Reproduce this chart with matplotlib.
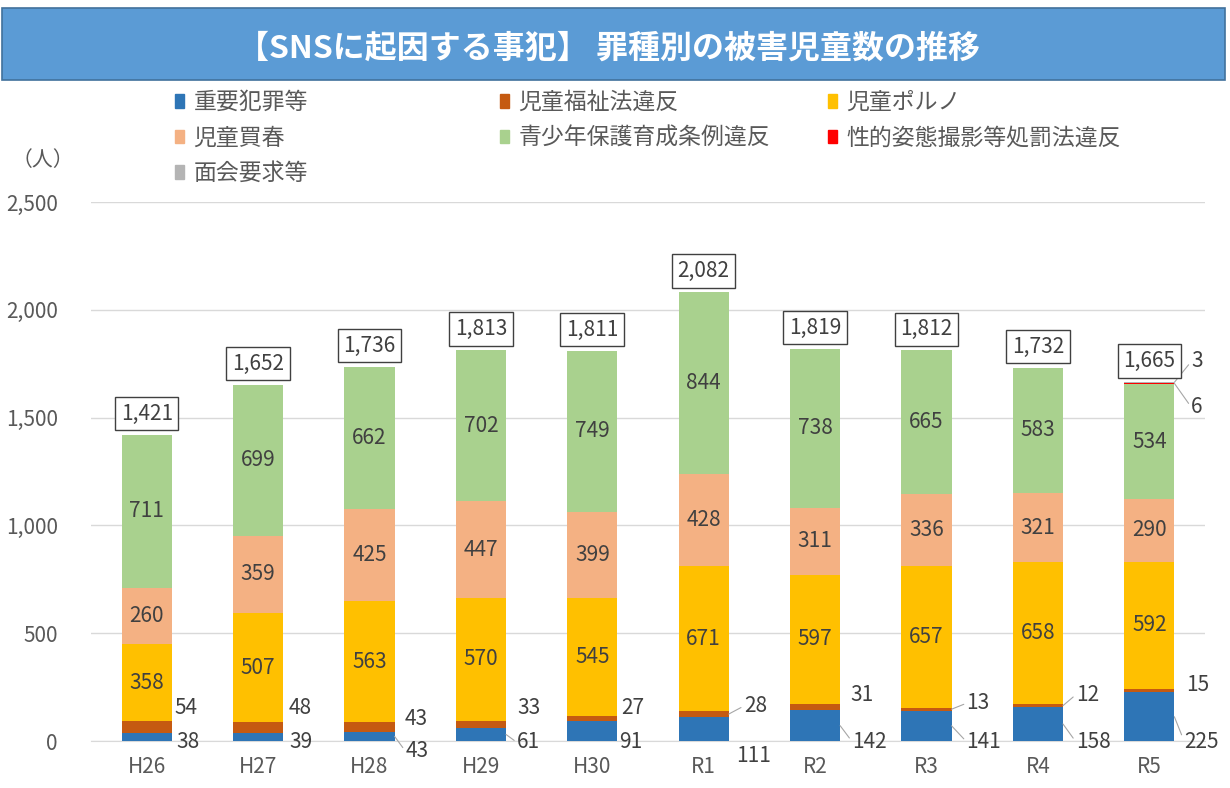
import matplotlib
matplotlib.use("Agg")
import matplotlib.pyplot as plt
from matplotlib.patches import Rectangle, Patch
import numpy as np

plt.rcParams['font.family'] = ['Noto Sans CJK JP', 'DejaVu Sans']

# データ
years = ["H26", "H27", "H28", "H29", "H30", "R1", "R2", "R3", "R4", "R5"]
series_names = ["重要犯罪等", "児童福祉法違反", "児童ポルノ", "児童買春",
                "青少年保護育成条例違反", "性的姿態撮影等処罰法違反", "面会要求等"]
juyo = [38, 39, 43, 61, 91, 111, 142, 141, 158, 225]
fukushi = [54, 48, 43, 33, 27, 28, 31, 13, 12, 15]
porno = [358, 507, 563, 570, 545, 671, 597, 657, 658, 592]
baishun = [260, 359, 425, 447, 399, 428, 311, 336, 321, 290]
jorei = [711, 699, 662, 702, 749, 844, 738, 665, 583, 534]
shiteki = [0, 0, 0, 0, 0, 0, 0, 0, 0, 6]
menkai = [0, 0, 0, 0, 0, 0, 0, 0, 0, 3]
colors = ["#2E75B6", "#C55A11", "#FFC000", "#F4B183", "#A9D18E", "#FF0000", "#B4B4B4"]

text_col = "#595959"
lab_col = "#404040"

# 小さい値のラベル位置 (pixel offset: dx, dy, 引出線)
fukushi_off = [(3, 19, 0), (5, 19, 0), (10, 8, 0), (11, 16, 0), (4, 10, 0),
               (15, 8, 1), (10, 12, 0), (15, 6, 1), (13, 11, 1), (12, 6, 0)]
juyo_off = [(5, -5, 0), (6, -5, 0), (11, -15, 1), (11, -8, 1), (2, -11, 0),
            (7, -27, 0), (12, -16, 1), (15, -16, 1), (13, -18, 1), (10, -25, 1)]

fig = plt.figure(figsize=(12.3, 7.88), dpi=100)

# タイトル帯
fig.patches.append(Rectangle((2 / 1230, 1 - 80 / 788), 1223 / 1230, 72 / 788,
                             transform=fig.transFigure, facecolor="#5B9BD5",
                             edgecolor="#41719C", lw=1.2))
fig.text(0.495, 1 - 49 / 788, "【SNSに起因する事犯】 罪種別の被害児童数の推移",
         ha="center", va="center", color="white", fontsize=23, fontweight="bold")

ax = fig.add_axes([91 / 1230, 1 - 741 / 788, 1114 / 1230, 539 / 788])
x = np.arange(len(years))
w = 0.45
data = [juyo, fukushi, porno, baishun, jorei, shiteki, menkai]
bottom = np.zeros(len(years))
handles = []
for vals, c, name in zip(data, colors, series_names):
    vals = np.array(vals)
    ax.bar(x, vals, w, bottom=bottom, color=c, label=name, zorder=3)
    handles.append(Patch(color=c, label=name))
    bottom = bottom + vals
totals = bottom

ax.set_xlim(-0.5, 9.5)
ax.set_ylim(0, 2500)
ax.set_yticks(np.arange(0, 2501, 500))
ax.yaxis.set_major_formatter(matplotlib.ticker.FuncFormatter(lambda v, p: f"{int(v):,}"))
ax.set_xticks(x)
ax.set_xticklabels(years)
ax.grid(axis="y", color="#D9D9D9", lw=1, zorder=0)
for s in ["top", "right", "left"]:
    ax.spines[s].set_visible(False)
ax.spines["bottom"].set_color("#D9D9D9")
ax.tick_params(length=0, colors=text_col, labelsize=15)
ax.tick_params(axis="y", pad=24)
ax.tick_params(axis="x", pad=11)

# 中のラベル
cum = np.zeros(len(years))
for k, vals in enumerate(data):
    vals = np.array(vals)
    if k in (2, 3, 4):
        for i in range(len(years)):
            ax.text(x[i], cum[i] + vals[i] / 2, f"{vals[i]}", ha="center", va="center",
                    fontsize=15, color=lab_col, zorder=5)
    cum = cum + vals

lead = dict(arrowstyle="-", color="#A6A6A6", lw=0.8, shrinkA=0, shrinkB=0, relpos=(0, 0.5))


def small_label(i, yval, val, off):
    dx, dy, ln = off
    ax.annotate(f"{val}", xy=(x[i] + w / 2, yval), xytext=(dx, dy),
                textcoords="offset pixels", ha="left", va="center", fontsize=15,
                color=lab_col, annotation_clip=False,
                arrowprops=lead if ln else None, zorder=6)


for i in range(len(years)):
    small_label(i, juyo[i] / 2, juyo[i], juyo_off[i])
    small_label(i, juyo[i] + fukushi[i] / 2, fukushi[i], fukushi_off[i])
small_label(9, totals[9] - menkai[9] - shiteki[9] / 2, shiteki[9], (17, -24, 1))
small_label(9, totals[9] - menkai[9] / 2, menkai[9], (17, 21, 1))

# 合計
for i in range(len(years)):
    ax.annotate(f"{int(totals[i]):,}", xy=(x[i], totals[i]), xytext=(0, 10),
                textcoords="offset pixels", ha="center", va="bottom", fontsize=15,
                color=lab_col, zorder=6,
                bbox=dict(boxstyle="square,pad=0.27", fc="white", ec="#404040", lw=1))

# 凡例
order = [[0, 3, 6], [1, 4], [2, 5]]
col_x = [175, 500, 828]
for cols, cx in zip(order, col_x):
    fig.legend([handles[j] for j in cols], [series_names[j] for j in cols],
               loc="upper left", bbox_to_anchor=(cx / 1230, 1 - 91 / 788),
               frameon=False, fontsize=16.5, labelcolor=text_col, handlelength=0.4,
               handleheight=0.55, handletextpad=0.4, labelspacing=0.55, borderpad=0,
               borderaxespad=0)

fig.text(12 / 1230, 1 - 160 / 788, "（人）", ha="left", va="center", fontsize=15, color=text_col)

plt.savefig("out.png", dpi=100)
